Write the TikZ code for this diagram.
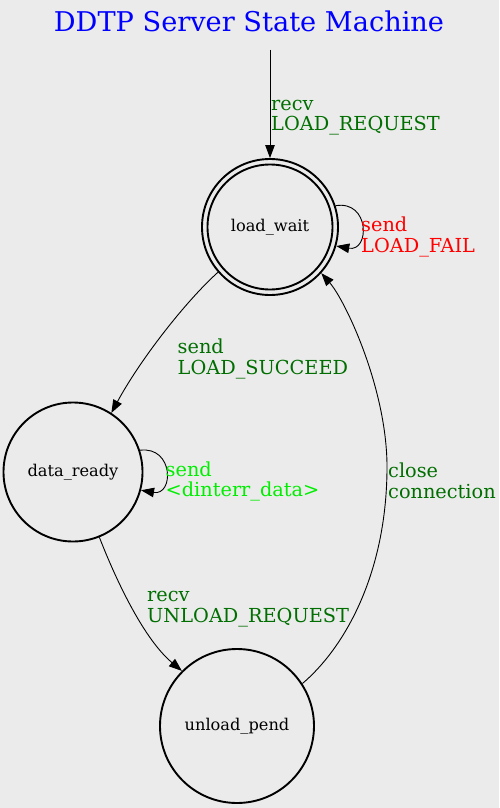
\documentclass[tikz,border=0pt]{standalone}
\usepackage{fontspec}
\setmainfont{DejaVu Serif}
\usetikzlibrary{arrows.meta}
\definecolor{bgc}{RGB}{235,235,235}
\definecolor{dgreen}{RGB}{0,110,0}
\definecolor{lgreen}{RGB}{0,238,0}
\begin{document}
\begin{tikzpicture}[x=1pt,y=-1pt,
  state/.style={circle,draw,line width=1.9pt,inner sep=0pt,font=\fontsize{16.2}{19}\selectfont},
  edge/.style={-{Triangle[length=13pt,width=9.5pt]},line width=0.9pt},
  elabel/.style={anchor=base west,inner sep=0pt,align=left,font=\fontsize{19.3}{20.5}\selectfont}]
\fill[bgc] (0,0) rectangle (499,808);
\useasboundingbox (0,0) rectangle (499,808);
\node[text=blue,font=\fontsize{27.2}{32}\selectfont,inner sep=0pt,anchor=base] (title) at (249,32) {DDTP Server State Machine};
\node[state,minimum size=136pt] (lw) at (270,227) {load\_wait};
\draw[line width=1.9pt] (lw.center) circle (62.5);
\node[state,minimum size=139pt] (dr) at (73,472) {data\_ready};
\node[state,minimum size=154pt] (up) at (237,726) {unload\_pend};
\coordinate (start) at (270,50);
\coordinate (cc) at (387,470);
% edges
\draw[edge] (start) -- (lw.north);
\node[elabel,text=dgreen] (l1) at (271,130.7) {recv\\LOAD\_REQUEST};
\draw[edge] (lw.18) .. controls (370,200) and (370,252) .. (lw.-16);
\node[elabel,text=red] (l2) at (361,252) {send\\LOAD\_FAIL};
\draw[edge] (lw.221) .. controls (185,302) and (140,360) .. (dr.57);
\node[elabel,text=dgreen] (l3) at (177.5,374) {send\\LOAD\_SUCCEED};
\draw[edge] (dr.18) .. controls (174,446) and (174,496) .. (dr.-15);
\node[elabel,text=lgreen] (l4) at (165.5,496.7) {send\\<dinterr\_data>};
\draw[edge] (dr.-68) .. controls (118,585) and (145,640) .. (up.135);
\node[elabel,text=dgreen] (l5) at (147,622) {recv\\UNLOAD\_REQUEST};
\draw[edge] (up.33) .. controls (342,650) and (386,578) .. (cc) .. controls (388,390) and (345,300) .. (lw.-42);
\node[elabel,text=dgreen] (l6) at (388,498) {close\\connection};
\end{tikzpicture}
\end{document}
